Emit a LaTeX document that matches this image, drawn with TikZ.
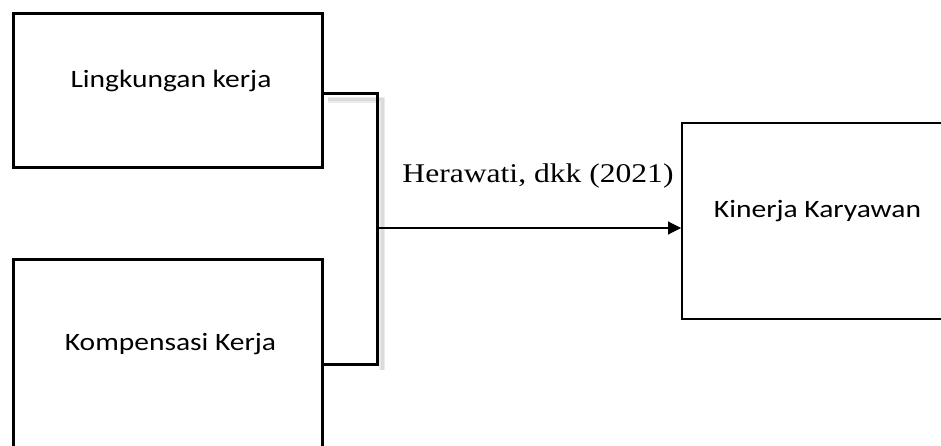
\documentclass[tikz,border=0pt]{standalone}
\usepackage{fontspec}
\setmainfont{Liberation Serif}
\newfontfamily\boxfont[FakeStretch=1.18]{Carlito}
\newfontfamily\refont[FakeStretch=1.17]{Liberation Serif}
\usetikzlibrary{arrows.meta}
\begin{document}
\begin{tikzpicture}[x=1pt,y=-1pt,
  boxshape/.style={draw=black,rectangle,inner sep=0pt,anchor=north west},
  boxtext/.style={font=\boxfont\fontsize{25}{30}\selectfont,inner sep=0pt,anchor=base},
  reftext/.style={font=\refont\fontsize{27}{32}\selectfont,inner sep=0pt,anchor=base},
  bracketline/.style={line width=3pt,line join=miter},
  shadowline/.style={line width=6pt,draw=black!8},
  shadowcore/.style={line width=3pt,draw=black!14},
  arrowline/.style={line width=1.1pt,-{Triangle[length=13pt,width=13pt]}}]
\useasboundingbox (0,0) rectangle (941,446);
\clip (0,0) rectangle (941,446);
\fill[white] (0,0) rectangle (941,446);
% boxes
\node[boxshape,line width=3pt,minimum width=309pt,minimum height=154pt] (box1) at (12,12) {};
\node[boxshape,line width=3pt,minimum width=309pt,minimum height=250pt] (box2) at (12,258) {};
\node[boxshape,line width=2pt,minimum width=320pt,minimum height=196pt] (box3) at (681,122) {};
% texts
\node[boxtext] (t1) at (171,88) {Lingkungan kerja};
\node[boxtext] (t2) at (170.5,350) {Kompensasi Kerja};
\node[boxtext] (t3) at (817.5,218) {Kinerja Karyawan};
% bracket connector
\coordinate (b1) at (box1.east |- 0,94);
\coordinate (b2) at (box2.east |- 0,364);
\coordinate (bt) at (377,94);
\coordinate (bb) at (377,364);
\coordinate (j) at (377,228);
% shadow
\draw[shadowline] ([shift={(4,6)}]b1) -- ([shift={(5,6)}]bt) -- ([shift={(5,6)}]bb);
\draw[shadowcore] ([shift={(4,6)}]b1) -- ([shift={(5,6)}]bt) -- ([shift={(5,6)}]bb);
\draw[bracketline] (b1) -- (bt) -- (bb) -- (b2);
% arrow
\draw[arrowline] (j) -- (box3.west |- j);
\node[reftext] (lab) at (538,183) {Herawati, dkk (2021)};
\end{tikzpicture}
\end{document}
